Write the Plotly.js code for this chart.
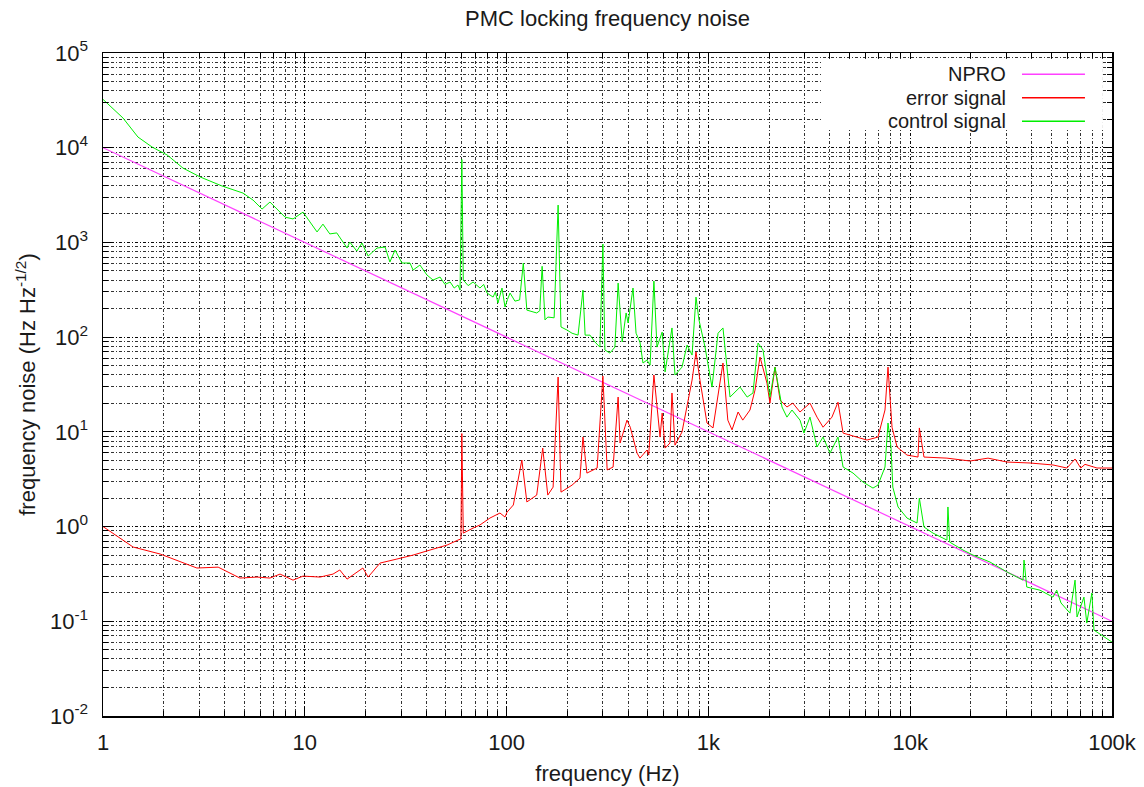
<!DOCTYPE html>
<html>
<head>
<meta charset="utf-8">
<script src="https://cdn.plot.ly/plotly-3.0.1.min.js"></script>
<style>html,body{margin:0;padding:0;background:#fff;}#chart{width:1144px;height:787px;}</style>
</head>
<body>
<div id="chart"></div>
<script>
// ---- data ----
const nproFreq = [1, 100000];
const nproNoise = [10000, 0.1];

const controlFreq = [1, 1.256, 1.49, 1.75, 2.08, 2.49, 3.03, 3.89, 4.94, 5.54, 6.14, 6.72, 7.98, 8.74, 9.8, 11.5, 12.3, 13.3, 14.4, 16.2, 16.7, 18.1, 19.2, 20.6, 22.8, 25.0, 26.4, 28.0, 30.3, 33.2, 34.4, 37.2, 40.3, 43.2, 46.8, 49.5, 52.5, 55.0, 57.4, 58.8, 60, 61, 64.5, 68.2, 73.8, 77.0, 80.0, 85.7, 88.0, 90.6, 94.9, 98.2, 101, 104, 110, 116, 121, 126, 141, 146, 150, 155, 160, 172, 180, 186, 199, 211, 226, 239, 245, 259, 274, 290, 300, 307, 325, 344, 357, 374, 391, 400, 423, 438, 458, 474, 496, 514, 537, 556, 590, 610, 660, 683, 740, 784, 830, 868, 898, 962, 1042, 1116, 1181, 1280, 1435, 1556, 1663, 1762, 1865, 2018, 2138, 2316, 2450, 2595, 2844, 2976, 3187, 3453, 3700, 4005, 4388, 4650, 5210, 5834, 6540, 6922, 7500, 7762, 8030, 8200, 8705, 9640, 10810, 11100, 11700, 12970, 15210, 15380, 15700, 18270, 20470, 24850, 30200, 36240, 36650, 37800, 43950, 51000, 53200, 55900, 61900, 65600, 67100, 72600, 75000, 79500, 81400, 100000];
const controlNoise = [32400, 20600, 12970, 10170, 8370, 6100, 4910, 3940, 3320, 2800, 2250, 2670, 1850, 1770, 2090, 1290, 1560, 1230, 1260, 873, 1010, 811, 986, 718, 873, 894, 621, 832, 606, 606, 511, 577, 453, 401, 431, 360, 382, 330, 355, 314, 7500, 401, 350, 382, 330, 360, 292, 265, 300, 229, 330, 208, 250, 292, 240, 247, 606, 193, 180, 190, 560, 152, 163, 160, 2480, 128, 119, 110, 105, 314, 105, 105, 88.8, 78.5, 962, 73.1, 67.9, 78.5, 372, 88.8, 180, 141, 330, 110, 88.8, 53.3, 57.3, 50.7, 391, 78.5, 113, 42.9, 125, 39.8, 48.3, 82.6, 64.7, 265, 152, 78.5, 29.7, 110, 125, 23.3, 29.7, 23.3, 25.7, 86.7, 73.1, 23.3, 48.3, 18.3, 14.3, 17.0, 13.3, 9.71, 14.3, 6.92, 8.81, 5.97, 8.81, 4.25, 3.67, 2.95, 2.55, 2.74, 4.25, 12.4, 6.92, 2.61, 1.61, 1.23, 1.09, 2.0, 0.99, 0.853, 0.72, 1.61, 0.685, 0.565, 0.5, 0.422, 0.331, 0.272, 0.443, 0.23, 0.213, 0.18, 0.213, 0.156, 0.122, 0.272, 0.111, 0.18, 0.0957, 0.199, 0.0807, 0.0603];

const errorFreq = [1, 1.41, 1.92, 2.92, 3.72, 4.77, 5.8, 6.72, 7.54, 8.74, 9.8, 11.9, 13.8, 14.9, 16.2, 18.1, 19.4, 20.6, 23.6, 28.6, 34.4, 41.7, 50.7, 57.4, 59.4, 60, 61, 68.2, 73.8, 82.7, 92.7, 98.2, 100.5, 108, 119, 126, 141, 151, 160, 170, 180, 186, 211, 231, 239, 250, 281, 300, 315, 337, 357, 365, 395, 410, 443, 458, 496, 506, 537, 576, 590, 610, 645, 660, 683, 740, 784, 830, 868, 908, 984, 1054, 1181, 1248, 1309, 1403, 1480, 1607, 1702, 1802, 1951, 2018, 2138, 2265, 2450, 2620, 2844, 3187, 3453, 3700, 4095, 4388, 4650, 5449, 6107, 6922, 7500, 7762, 8128, 8610, 9640, 10930, 11100, 11700, 15210, 19780, 24300, 30200, 39300, 51000, 59800, 65600, 70000, 73500, 84300, 100000];
const errorNoise = [1.0, 0.608, 0.513, 0.365, 0.373, 0.286, 0.293, 0.286, 0.315, 0.272, 0.3, 0.293, 0.315, 0.348, 0.279, 0.331, 0.365, 0.293, 0.412, 0.454, 0.5, 0.565, 0.638, 0.72, 0.74, 9.6, 0.853, 0.964, 1.04, 1.23, 1.39, 1.26, 1.42, 1.69, 5.04, 1.82, 2.15, 6.74, 2.15, 2.61, 37.9, 2.31, 2.74, 3.25, 8.81, 3.67, 4.15, 38.8, 3.96, 4.25, 23.3, 7.62, 13.3, 11.2, 5.97, 5.28, 6.43, 5.69, 39.8, 8.81, 15.8, 6.74, 7.62, 25.7, 7.24, 9.96, 18.3, 35.2, 69.7, 35.2, 12.4, 11.0, 53.3, 13.3, 10.5, 16.2, 13.3, 17.0, 27.6, 61.7, 32.7, 20.1, 48.3, 21.7, 18.3, 20.1, 16.2, 20.1, 14.3, 11.2, 14.3, 20.6, 9.71, 8.81, 8.19, 8.81, 17.0, 48.3, 11.2, 6.92, 5.69, 5.42, 11.0, 5.42, 5.28, 4.92, 5.28, 4.8, 4.69, 4.47, 4.15, 5.17, 4.15, 4.54, 4.15, 4.15];

const seriesNames = ['NPRO', 'error signal', 'control signal'];
const seriesColors = ['#ff40ff', '#ff0000', '#00ee00'];

const xTickVals = [1, 10, 100, 1000, 10000, 100000];
const xTickText = ['1', '10', '100', '1k', '10k', '100k'];
const yTickVals = [0.01, 0.1, 1, 10, 100, 1000, 10000, 100000];
const yTickText = ['10<sup>-2</sup>', '10<sup>-1</sup>', '10<sup>0</sup>', '10<sup>1</sup>', '10<sup>2</sup>', '10<sup>3</sup>', '10<sup>4</sup>', '10<sup>5</sup>'];

// ---- chart ----
const FONT = 'Liberation Sans, Arial, sans-serif';
const TXT = '#1a1a1a';
const gridStyle = {showgrid: true, gridcolor: 'rgba(0,0,0,0.8)', gridwidth: 1, griddash: '3px,2px,1px,2px'};

const traces = [
  {x: nproFreq, y: nproNoise, name: seriesNames[0], mode: 'lines', line: {color: seriesColors[0], width: 1.2}},
  {x: errorFreq, y: errorNoise, name: seriesNames[1], mode: 'lines', line: {color: seriesColors[1], width: 1}},
  {x: controlFreq, y: controlNoise, name: seriesNames[2], mode: 'lines', line: {color: seriesColors[2], width: 1}}
];

function axisBase() {
  return Object.assign({
    type: 'log', tickmode: 'array', ticks: 'inside', ticklen: 9, tickcolor: '#000', tickwidth: 1,
    showline: true, linecolor: '#000', linewidth: 1.5, mirror: 'allticks', zeroline: false,
    tickfont: {family: FONT, size: 22, color: TXT},
    minor: Object.assign({dtick: 'D1', ticks: 'inside', ticklen: 5, tickcolor: '#000'}, gridStyle)
  }, gridStyle);
}

const xaxis = Object.assign(axisBase(), {
  range: [0, 5], tickvals: xTickVals, ticktext: xTickText, ticklabelstandoff: 6,
  title: {text: 'frequency (Hz)', font: {family: FONT, size: 22, color: TXT}, standoff: 11}
});
const yaxis = Object.assign(axisBase(), {
  range: [-2, 5], tickvals: yTickVals, ticktext: yTickText, ticklabelstandoff: 9,
  title: {text: 'frequency noise (Hz Hz<sup>-1/2</sup>)', font: {family: FONT, size: 22, color: TXT}, standoff: 8}
});

// custom gnuplot-like legend (text right-aligned, sample line to the right)
const legendY = [0.968, 0.9325, 0.897];
const shapes = [{type: 'rect', xref: 'paper', yref: 'paper', x0: 0.7126, x1: 0.991, y0: 0.8854, y1: 0.991,
  fillcolor: '#fff', line: {width: 0}, layer: 'above'}];
const annotations = [];
seriesNames.forEach((n, i) => {
  shapes.push({type: 'line', xref: 'paper', yref: 'paper', x0: 0.9108, x1: 0.9732, y0: legendY[i], y1: legendY[i],
    line: {color: seriesColors[i], width: 1.5}, layer: 'above'});
  annotations.push({xref: 'paper', yref: 'paper', x: 0.896, y: legendY[i], xanchor: 'right', yanchor: 'middle',
    text: n, showarrow: false, borderpad: 0, font: {family: FONT, size: 20, color: TXT}});
});

const layout = {
  width: 1144, height: 787,
  margin: {l: 103, r: 32, t: 53, b: 71},
  paper_bgcolor: '#fff', plot_bgcolor: '#fff',
  font: {family: FONT, color: TXT},
  title: {text: 'PMC locking frequency noise', font: {family: FONT, size: 22, color: TXT},
    xref: 'paper', x: 0.5, yref: 'container', y: 0.977, yanchor: 'middle'},
  showlegend: false,
  xaxis: xaxis, yaxis: yaxis,
  shapes: shapes, annotations: annotations
};

Plotly.newPlot('chart', traces, layout, {displayModeBar: false, staticPlot: true});
</script>
</body>
</html>
